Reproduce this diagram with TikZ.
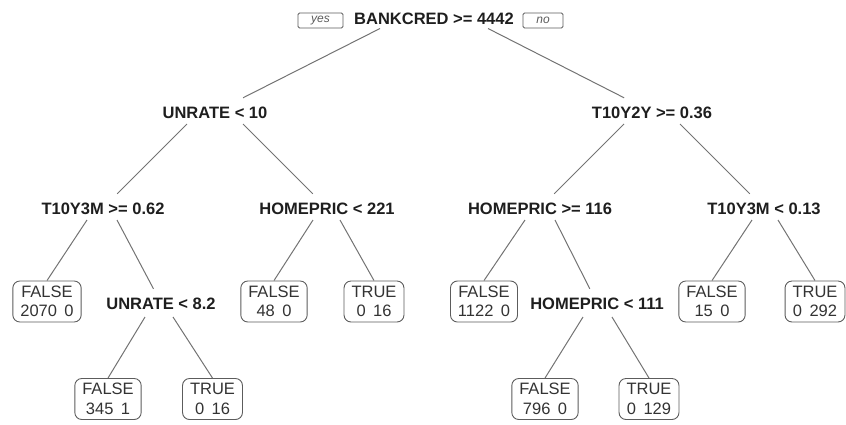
\documentclass[tikz,border=0pt]{standalone}
\usepackage{fontspec}
\setmainfont{Liberation Sans}
\usetikzlibrary{calc}
\definecolor{linegray}{HTML}{737373}
\definecolor{boxgray}{HTML}{5C5C5C}
\definecolor{inkdark}{HTML}{1E1E1E}
\definecolor{leafink}{HTML}{333333}
\begin{document}
\begin{tikzpicture}[x=1pt,y=-1pt,
  split/.style={font=\fontsize{16.5}{19.5}\selectfont\bfseries, text=inkdark,
    inner xsep=2pt, inner ysep=8pt, text height=12pt, text depth=0pt},
  leaf/.style={draw=boxgray, line width=0.9pt, rounded corners=7pt,
    font=\fontsize{16.5}{19.5}\selectfont, text=leafink, align=center,
    inner xsep=7.5pt, inner ysep=2pt, minimum height=41pt},
  tag/.style={draw=boxgray, line width=0.8pt, rounded corners=1.5pt,
    font=\fontsize{12}{14}\selectfont\itshape, text=leafink!80!white,
    minimum height=15pt, inner sep=0pt},
  branch/.style={draw=linegray, line width=1pt}]
\useasboundingbox (0,0) rectangle (846,424);

% root split with its yes / no tags
\node[split] (root) at (434,18.5) {BANKCRED >= 4442};
\node[tag, minimum width=45pt] (yes) at (320.5,20.5) {yes};
\node[tag, minimum width=40pt] (no) at (543,20.5) {no};

% inner splits
\node[split] (n1) at (215,112) {UNRATE < 10};
\node[split] (n2) at (652,112) {T10Y2Y >= 0.36};
\node[split] (n3) at (103,208) {T10Y3M >= 0.62};
\node[split] (n4) at (327,208) {HOMEPRIC < 221};
\node[split] (n5) at (540,208) {HOMEPRIC >= 116};
\node[split] (n6) at (764,208) {T10Y3M < 0.13};
\node[split] (n7) at (161,303) {UNRATE < 8.2};
\node[split] (n8) at (597,303) {HOMEPRIC < 111};

% leaves
\node[leaf] (l1) at (47,301.5)  {FALSE\\2070\hspace{0.45em}0};
\node[leaf] (l2) at (274,301.5) {FALSE\\48\hspace{0.45em}0};
\node[leaf] (l3) at (374,301.5) {TRUE\\0\hspace{0.45em}16};
\node[leaf] (l4) at (484,301.5) {FALSE\\1122\hspace{0.45em}0};
\node[leaf] (l5) at (712,301.5) {FALSE\\15\hspace{0.45em}0};
\node[leaf] (l6) at (815,301.5) {TRUE\\0\hspace{0.45em}292};
\node[leaf] (l7) at (108,399)   {FALSE\\345\hspace{0.45em}1};
\node[leaf] (l8) at (212.5,399) {TRUE\\0\hspace{0.45em}16};
\node[leaf] (l9) at (545,399)   {FALSE\\796\hspace{0.45em}0};
\node[leaf] (l10) at (649,399)  {TRUE\\0\hspace{0.45em}129};

% branches
\draw[branch] ($(root)+(-54,10)$) -- (n1);
\draw[branch] ($(root)+(54,10)$) -- (n2);
\draw[branch] ($(n1)+(-28,12)$) -- (n3);
\draw[branch] ($(n1)+(28,12)$) -- (n4);
\draw[branch] ($(n2)+(-28,12)$) -- (n5);
\draw[branch] ($(n2)+(28,12)$) -- (n6);
\draw[branch] ($(n3)+(-16,12)$) -- (l1.north);
\draw[branch] ($(n3)+(14,12)$) -- (n7);
\draw[branch] ($(n4)+(-14,12)$) -- (l2.north);
\draw[branch] ($(n4)+(13,12)$) -- (l3.north);
\draw[branch] ($(n5)+(-15,12)$) -- (l4.north);
\draw[branch] ($(n5)+(15,12)$) -- (n8);
\draw[branch] ($(n6)+(-12,12)$) -- (l5.north);
\draw[branch] ($(n6)+(14,12)$) -- (l6.north);
\draw[branch] ($(n7)+(-16,14)$) -- (l7.north);
\draw[branch] ($(n7)+(12,14)$) -- (l8.north);
\draw[branch] ($(n8)+(-14,14)$) -- (l9.north);
\draw[branch] ($(n8)+(15,14)$) -- (l10.north);
\end{tikzpicture}
\end{document}
